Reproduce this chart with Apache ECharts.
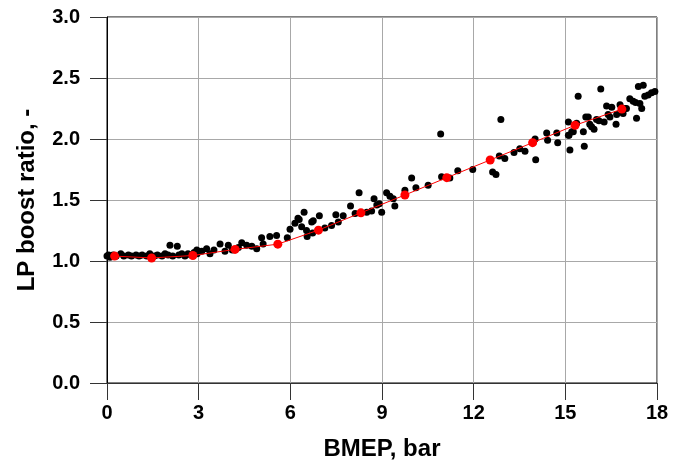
<!DOCTYPE html>
<html>
<head>
<meta charset="utf-8">
<script src="https://cdn.jsdelivr.net/npm/echarts@6/dist/echarts.min.js"></script>
<style>html,body{margin:0;padding:0;background:#fff}#c{width:686px;height:472px}</style>
</head>
<body>
<div id="c"></div>
<script>
var xTicks = [0, 3, 6, 9, 12, 15, 18];
var yTicks = [0.0, 0.5, 1.0, 1.5, 2.0, 2.5, 3.0];
var xName = 'BMEP, bar';
var yName = 'LP boost ratio, -';

// black measured points [BMEP, ratio]
var measuredX = [0.0,0.05,0.1,0.2,0.3,0.45,0.55,0.7,0.8,0.95,1.05,1.15,1.3,1.4,1.55,1.65,1.8,1.9,2.0,2.06,2.15,2.3,2.35,2.45,2.55,2.65,2.75,2.85,2.95,
2.94,3.1,3.26,3.37,3.5,3.70,3.86,3.97,4.1,4.3,4.41,4.57,4.74,4.9,5.06,5.11,5.33,5.55,5.90,5.99,6.15,6.25,6.29,6.37,6.45,6.53,6.55,6.70,6.75,6.73,6.95,7.13,7.35,7.49,7.57,7.73,7.97,8.12,8.25,8.50,8.66,8.74,8.83,8.91,8.99,9.15,9.26,9.37,9.42,9.75,9.97,10.11,10.51,10.92,10.95,11.22,11.48,11.97,12.62,12.73,12.84,12.89,13.02,13.32,13.51,13.68,14.01,14.03,14.39,14.42,14.72,14.75,15.10,15.10,15.12,15.15,15.21,15.26,15.37,15.42,15.59,15.62,15.67,15.75,15.8,15.86,15.94,16.02,16.1,16.16,16.27,16.35,16.4,16.46,16.52,16.66,16.68,16.79,16.89,16.95,17.0,17.11,17.22,17.3,17.33,17.39,17.44,17.50,17.55,17.60,17.71,17.82,17.93];
var measuredY = [1.04,1.05,1.03,1.05,1.04,1.06,1.04,1.05,1.04,1.05,1.04,1.05,1.04,1.06,1.04,1.05,1.04,1.06,1.05,1.13,1.04,1.12,1.05,1.06,1.04,1.06,1.05,1.07,1.06,
1.09,1.08,1.10,1.06,1.09,1.14,1.08,1.13,1.09,1.11,1.15,1.13,1.12,1.10,1.19,1.14,1.20,1.21,1.19,1.26,1.31,1.35,1.34,1.28,1.40,1.25,1.20,1.32,1.33,1.23,1.37,1.27,1.29,1.38,1.32,1.37,1.45,1.39,1.56,1.40,1.41,1.51,1.46,1.47,1.40,1.56,1.53,1.51,1.45,1.58,1.68,1.60,1.62,2.04,1.69,1.68,1.74,1.75,1.73,1.71,1.86,2.16,1.84,1.89,1.92,1.90,2.00,1.83,2.05,1.99,2.05,1.97,2.14,2.03,2.03,1.91,2.06,2.06,2.13,2.35,2.06,1.94,2.18,2.18,2.12,2.10,2.08,2.16,2.15,2.41,2.14,2.27,2.20,2.18,2.26,2.12,2.20,2.28,2.21,2.25,2.25,2.33,2.31,2.30,2.17,2.43,2.29,2.25,2.44,2.35,2.36,2.38,2.39];

// red reference points
var refX = [0.25,1.46,2.81,4.19,5.59,6.92,8.31,9.75,11.12,12.54,13.93,15.32,16.85];
var refY = [1.04,1.025,1.045,1.095,1.138,1.253,1.395,1.541,1.683,1.828,1.970,2.113,2.245];

var measured = measuredX.map(function(x,i){return [x, measuredY[i]];});
var ref = refX.map(function(x,i){return [x, refY[i]];});

var font = '"Liberation Sans", Arial, sans-serif';
var chart = echarts.init(document.getElementById('c'), null, {renderer:'canvas'});
chart.setOption({
  animation: false,
  grid: {left:107, right:29, top:17, bottom:89, show:true, borderColor:'#000', borderWidth:1, backgroundColor:'transparent'},
  xAxis: {
    type:'value', min:xTicks[0], max:xTicks[xTicks.length-1], interval:3,
    name:xName, nameLocation:'middle', nameGap:54,
    nameTextStyle:{fontFamily:font, fontWeight:'bold', fontSize:24, color:'#000'},
    axisLine:{show:true, lineStyle:{color:'#333', width:1}},
    axisTick:{show:true, inside:false, length:17, lineStyle:{color:'#333'}},
    axisLabel:{margin:20, fontFamily:font, fontWeight:'bold', fontSize:20, color:'#000'},
    splitLine:{show:true, lineStyle:{color:'#a8a8a8', width:1}}
  },
  yAxis: {
    type:'value', min:yTicks[0], max:yTicks[yTicks.length-1], interval:0.5,
    name:yName, nameLocation:'middle', nameGap:68, nameRotate:90,
    nameTextStyle:{fontFamily:font, fontWeight:'bold', fontSize:24, color:'#000'},
    axisLine:{show:true, lineStyle:{color:'#000', width:1}},
    axisTick:{show:true, inside:false, length:17, lineStyle:{color:'#333'}},
    axisLabel:{margin:27, fontFamily:font, fontWeight:'bold', fontSize:20, color:'#000',
      formatter:function(v){return v.toFixed(1);}},
    splitLine:{show:true, lineStyle:{color:'#a8a8a8', width:1}}
  },
  series: [
    {type:'scatter', data:measured, symbol:'circle', symbolSize:7, itemStyle:{color:'#000', opacity:1}, z:2},
    {type:'line', data:ref, symbol:'circle', symbolSize:9, showSymbol:true,
      lineStyle:{color:'#ff0000', width:1}, itemStyle:{color:'#ff0000', opacity:1}, z:3}
  ]
});
</script>
</body>
</html>
